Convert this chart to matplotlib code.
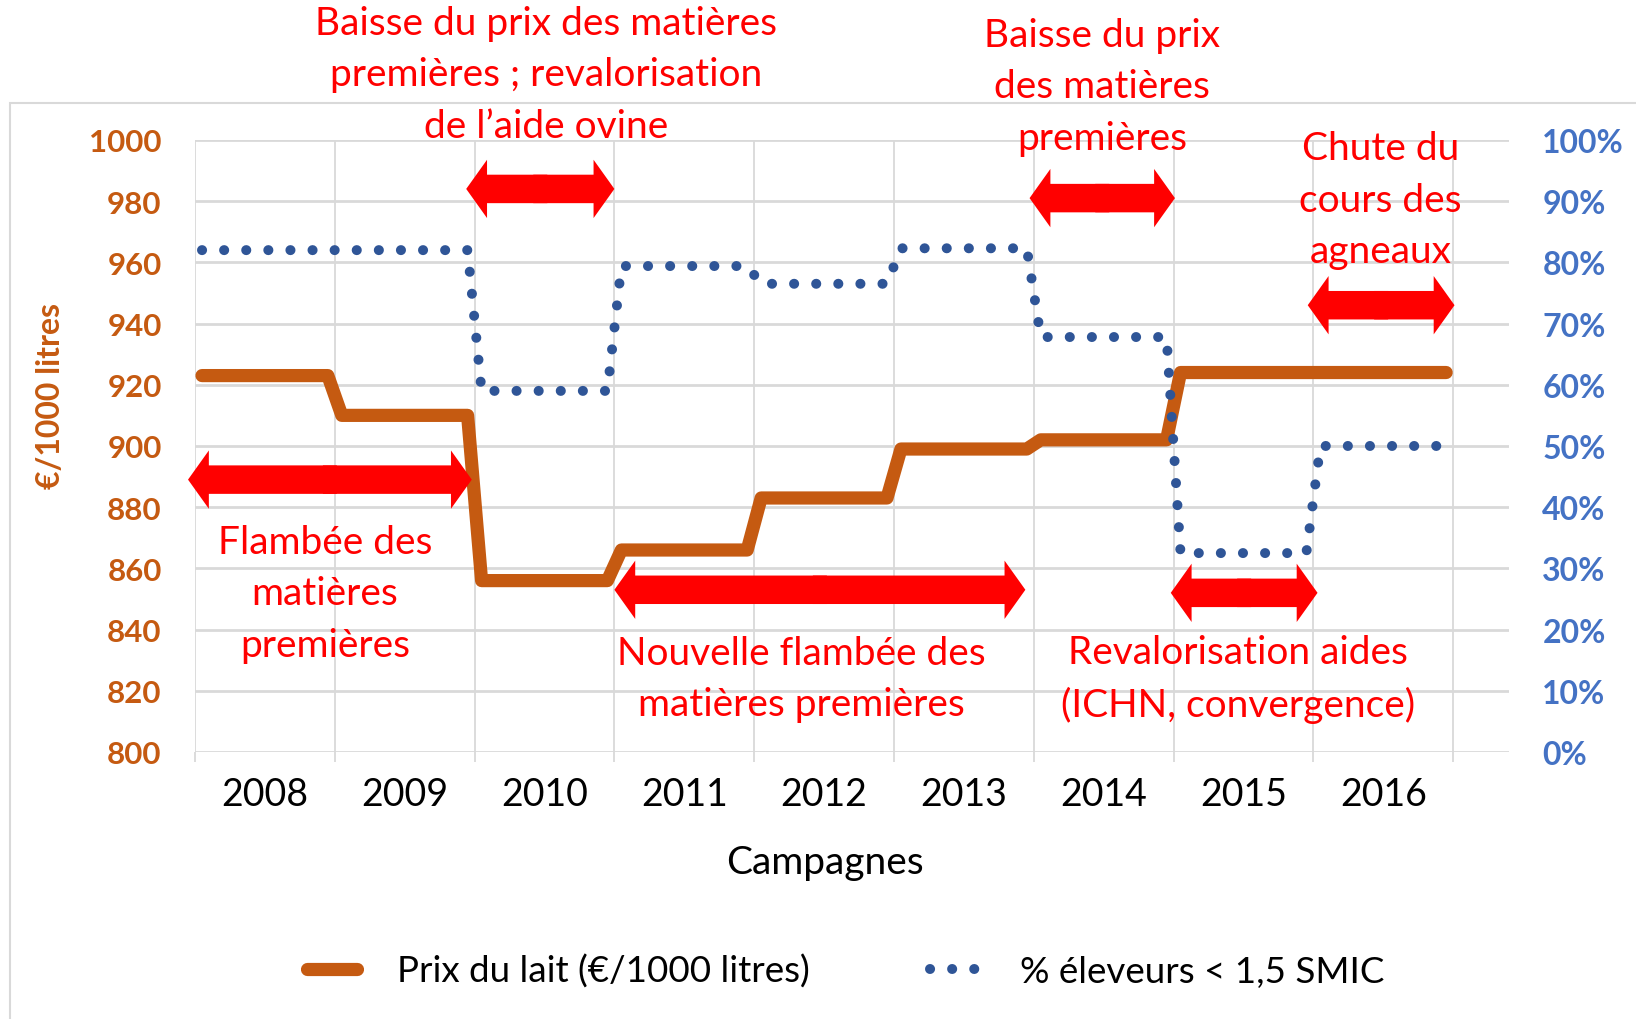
import matplotlib
matplotlib.use("Agg")
import matplotlib.pyplot as plt
import matplotlib.patches as mpatches
from matplotlib.lines import Line2D
import numpy as np

plt.rcParams['font.family'] = ['Lato', 'DejaVu Sans']

# données
annees = ['2008', '2009', '2010', '2011', '2012', '2013', '2014', '2015', '2016']
prix_lait = [923, 910, 856, 866, 883, 899, 902, 924, 924]          # €/1000 litres
pct_eleveurs = [82, 82, 59, 79.4, 76.5, 82.3, 67.8, 32.5, 50]      # % éleveurs < 1,5 SMIC

# annotations : texte, position, flèche (début, fin, hauteur)
notes = ["Baisse du prix des matières\npremières ; revalorisation\nde l\u2019aide ovine",
         "Baisse du prix\ndes matières\npremières",
         "Chute du\ncours des\nagneaux",
         "Flambée des\nmatières\npremières",
         "Nouvelle flambée des\nmatières premières",
         "Revalorisation aides\n(ICHN, convergence)"]
notes_x = [2.51, 6.49, 8.48, 0.93, 4.34, 7.46]
notes_y = [1021.5, 1017.5, 980.5, 851.8, 824, 824]
fleches = [(-0.05, 1.98, 889), (1.94, 3.0, 984), (3.0, 5.94, 853),
           (5.97, 7.01, 981), (6.98, 8.03, 852), (7.96, 9.01, 946)]

ORANGE = '#C55A11'
BLEU = '#2F5597'
BLEU_TXT = '#4472C4'
ROUGE = '#FF0000'
GRIS = '#D9D9D9'

# chaque campagne = un palier, avec une petite transition entre deux années
x = []
y1 = []
y2 = []
for i in range(len(annees)):
    x += [i + 0.05, i + 0.95]
    y1 += [prix_lait[i], prix_lait[i]]
    y2 += [pct_eleveurs[i], pct_eleveurs[i]]

fig = plt.figure(figsize=(16.36, 10.2), dpi=100)
ax = fig.add_axes([0.1192, 0.2618, 0.8032, 0.6000])
ax2 = ax.twinx()

ax.set_xlim(0, 9.4)
ax.set_ylim(800, 1000)
ax2.set_ylim(0, 1)

# grille
ax.set_yticks(np.arange(800, 1001, 20))
ax.set_xticks(np.arange(0, 10), minor=True)
ax.set_xticks(np.arange(len(annees)) + 0.5)
ax.set_xticklabels(annees)
ax.grid(True, axis='y', color=GRIS, lw=2)
ax.grid(True, axis='x', which='minor', color=GRIS, lw=1.3)
ax.set_axisbelow(True)
for s in ax.spines.values():
    s.set_visible(False)
for s in ax2.spines.values():
    s.set_visible(False)

ax.tick_params(axis='x', which='major', length=0, pad=17, labelsize=27, labelcolor='black')
ax.tick_params(axis='x', which='minor', length=7, color=GRIS, width=1.3)
ax.tick_params(axis='y', length=0, pad=24, labelsize=22.5, labelcolor=ORANGE)
for t in ax.get_yticklabels():
    t.set_fontweight('bold')

ax2.set_yticks(np.arange(0, 1.01, 0.1))
ax2.set_yticklabels([f"{int(round(v * 100))}%" for v in np.arange(0, 1.01, 0.1)])
ax2.tick_params(axis='y', length=0, pad=24, labelsize=23, labelcolor=BLEU_TXT)
for t in ax2.get_yticklabels():
    t.set_fontweight('bold')

ax.set_ylabel("€/1000 litres", color=ORANGE, fontsize=23, fontweight='bold')
ax.yaxis.set_label_coords(-0.099, 0.5825)
ax.set_xlabel("Campagnes", fontsize=28, labelpad=23)
ax.xaxis.label.set_x(0.4797)

# séries
l1, = ax.plot(x, y1, color=ORANGE, lw=9.5, solid_capstyle='round', solid_joinstyle='round', zorder=3)
l2, = ax2.plot(x, np.array(y2) / 100, color=BLEU, lw=7.2, linestyle=(0, (0.01, 2.2)),
               dash_capstyle='round', zorder=3)

# flèches rouges doubles (deux demi-flèches qui se recouvrent au centre)
for x0, x1, yf in fleches:
    xm = (x0 + x1) / 2
    d = 0.05
    for xe, xs in ((x0, xm + d), (x1, xm - d)):
        ax.annotate("", xy=(xe, yf), xytext=(xs, yf), annotation_clip=False,
                    arrowprops=dict(arrowstyle="simple,head_length=15,head_width=42,tail_width=20.5",
                                    mutation_scale=1, fc=ROUGE, ec='none', shrinkA=0, shrinkB=0))

for txt, tx, ty in zip(notes, notes_x, notes_y):
    ax.text(tx, ty, txt, color=ROUGE, fontsize=28, ha='center', va='center',
            linespacing=1.53, clip_on=False, zorder=5)

# légende
h1 = Line2D([], [], color=ORANGE, lw=9.5, solid_capstyle='round')
h2 = Line2D([], [], color=BLEU, lw=7.2, linestyle=(0, (0.01, 2.2)), dash_capstyle='round')
fig.legend([h1, h2], ["Prix du lait (€/1000 litres)", "% éleveurs < 1,5 SMIC"],
           loc='center', bbox_to_anchor=(0.517, 0.047), ncol=2, frameon=False,
           fontsize=26.5, handlelength=1.36, handletextpad=1.1, columnspacing=3.25)

# cadre de la zone de graphique
fig.patches.append(mpatches.Rectangle((0.0064, -0.1), 1.2, 0.998, transform=fig.transFigure,
                                      fill=False, ec=GRIS, lw=1.5, zorder=0))

fig.savefig("out.png", dpi=100)
